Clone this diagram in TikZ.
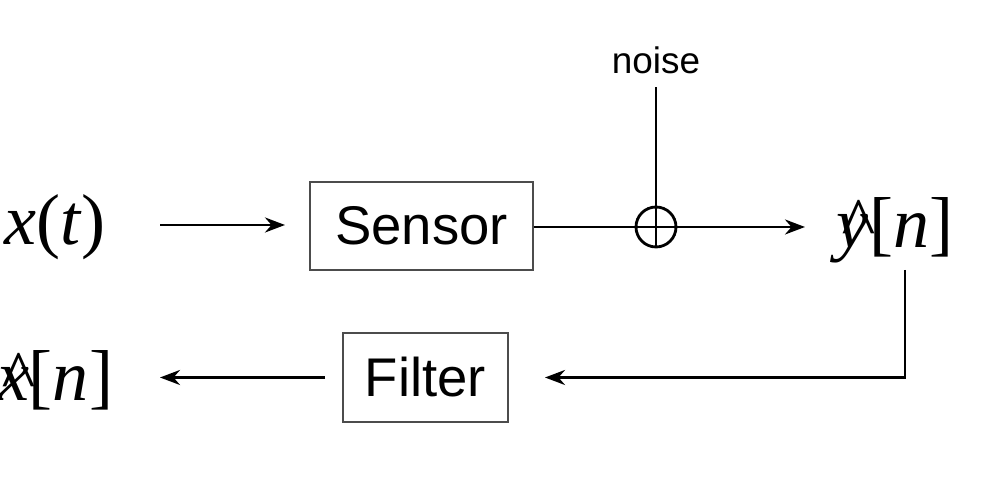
\documentclass[tikz,border=0pt]{standalone}
\usepackage{fontspec}
\setmainfont{Liberation Sans}
\newfontfamily\tms{Liberation Serif}
\newcommand\hatletter[1]{\ooalign{\textit{#1}\cr\hidewidth\textit{\kern0.12em\^{}}\hidewidth\cr}}
\usetikzlibrary{positioning,arrows.meta}
\begin{document}
\begin{tikzpicture}
[
 line width=1.6pt,
 SIG/.style={font=\tms\fontsize{41}{46}\selectfont},
 BLOCK/.style={rectangle, draw=black!70, line width=0.8pt, font=\fontsize{31}{36}\selectfont},
 SUM/.style={circle, draw, minimum size=8mm, inner sep=0pt},
 ARR/.style={-{Stealth[length=4mm,width=3mm]}},
 ]
\useasboundingbox (0,0) rectangle (20,10);
%
\node [SIG]  (XT)   at ( 1.1, 5.45)  {\textit{x}(\textit{t})};
\node [BLOCK, minimum width=4.46cm, minimum height=1.76cm] (SEN) at ( 8.43, 5.48) {Sensor};
\node [SUM]  (ADD)  at (13.12, 5.46)  {};
\node [font=\fontsize{21}{25}\selectfont] (NOI) at (13.12, 8.8) {noise};
\node [SIG]  (YN)   at (17.9, 5.45)  {\hatletter{y}[\textit{n}]};
\node [BLOCK, minimum width=3.3cm, minimum height=1.78cm] (FIL) at ( 8.51, 2.45) {Filter};
\node [SIG]  (XN)   at ( 1.1, 2.4)  {\hatletter{x}[\textit{n}]};
%
\coordinate (A1) at (3.2, 5.5);
\coordinate (A2) at (5.7, 5.5);
\coordinate (N0) at (13.12, 8.25);
\coordinate (Y1) at (18.1, 4.6);
\coordinate (Y2) at (18.1, 2.45);
\coordinate (F1) at (6.5, 2.45);
\coordinate (F2) at (3.2, 2.45);
%
\draw [ARR]  (A1) -- (A2);
\draw        (SEN.east |- ADD) -- (ADD.west);
\draw [ARR]  (ADD.east) -- (16.1, 5.46);
\draw        (N0) -- (ADD.south);
\draw        (ADD.west) -- (ADD.east);
\draw [ARR]  (Y1) -- (Y2) -- (FIL.east -| 10.9, 2.45);
\draw [ARR]  (F1) -- (F2);
%
\end{tikzpicture}
\end{document}
